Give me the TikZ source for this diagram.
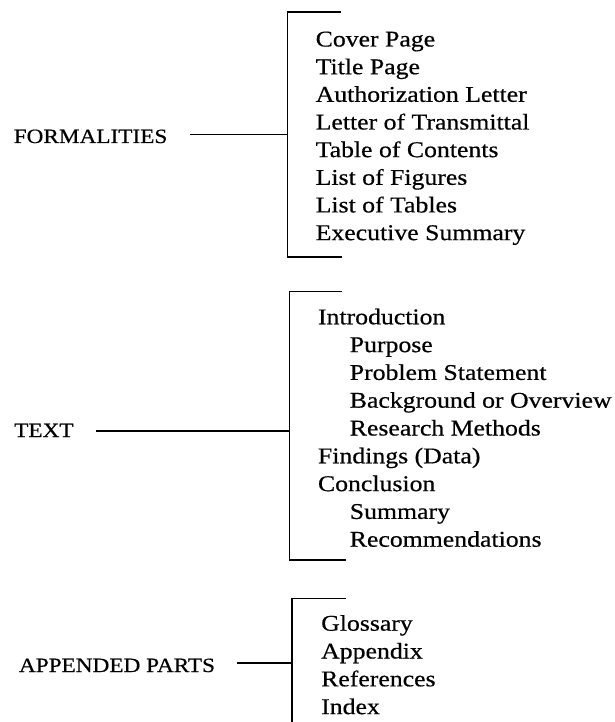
\documentclass[tikz,border=0pt]{standalone}
\usepackage{fontspec}
\setmainfont[FakeStretch=1.145,FakeBold=0.5]{Liberation Serif}
\begin{document}
\begin{tikzpicture}[x=1pt,y=-1pt,
  item/.style={anchor=base west,inner sep=0pt,font=\fontsize{22.5}{27}\selectfont},
  lab/.style={anchor=base west,inner sep=0pt,font=\fontsize{20.3}{25}\selectfont},
  brk/.style={line width=1.3pt,line cap=rect},
  conn/.style={line width=1.3pt}]
\useasboundingbox (0,0) rectangle (615,722);
% ---------- FORMALITIES ----------
\node[lab] (lab1) at (13.5,143) {FORMALITIES};
\coordinate (b1t) at (287.5,12);
\coordinate (b1b) at (287.5,257);
\coordinate (b1) at (287.5,134.5);
\draw[brk] (340,12) -- (b1t) -- (b1b) -- (341,257);
\path (lab1.east |- b1) coordinate (l1);
\draw[conn] ([xshift=22pt]l1) -- (b1);
\node[item] (f1) at (315.5,46.5) {Cover Page};
\node[item] (f2) at (315.5,74.2) {Title Page};
\node[item] (f3) at (315.5,101.8) {Authorization Letter};
\node[item] (f4) at (315.5,129.5) {Letter of Transmittal};
\node[item] (f5) at (315.5,157.1) {Table of Contents};
\node[item] (f6) at (315.5,184.8) {List of Figures};
\node[item] (f7) at (315.5,212.4) {List of Tables};
\node[item] (f8) at (315.5,240.1) {Executive Summary};
% ---------- TEXT ----------
\node[lab] (lab2) at (14,437) {TEXT};
\coordinate (b2t) at (289.5,291.7);
\coordinate (b2b) at (289.5,560);
\coordinate (b2) at (289.5,431);
\draw[brk] (341,291.7) -- (b2t) -- (b2b) -- (345,560);
\path (lab2.east |- b2) coordinate (l2);
\draw[conn] ([xshift=22pt]l2) -- (b2);
\node[item] (t1) at (317.8,324.3) {Introduction};
\node[item] (t2) at (349.6,352.1) {Purpose};
\node[item] (t3) at (349.6,379.9) {Problem Statement};
\node[item] (t4) at (349.6,407.7) {Background or Overview};
\node[item] (t5) at (349.6,435.5) {Research Methods};
\node[item] (t6) at (317.8,463.3) {Findings (Data)};
\node[item] (t7) at (317.8,491.1) {Conclusion};
\node[item] (t8) at (349.6,518.9) {Summary};
\node[item] (t9) at (349.6,546.7) {Recommendations};
% ---------- APPENDED PARTS ----------
\node[lab] (lab3) at (18.8,672) {APPENDED PARTS};
\coordinate (b3t) at (292,598.3);
\coordinate (b3b) at (292,722);
\coordinate (b3) at (292,663);
\draw[brk] (345,598.3) -- (b3t) -- (b3b);
\path (lab3.east |- b3) coordinate (l3);
\draw[conn] ([xshift=22pt]l3) -- (b3);
\node[item] (a1) at (321,630.7) {Glossary};
\node[item] (a2) at (321,658.5) {Appendix};
\node[item] (a3) at (321,686.3) {References};
\node[item] (a4) at (321,714.1) {Index};
\end{tikzpicture}
\end{document}
